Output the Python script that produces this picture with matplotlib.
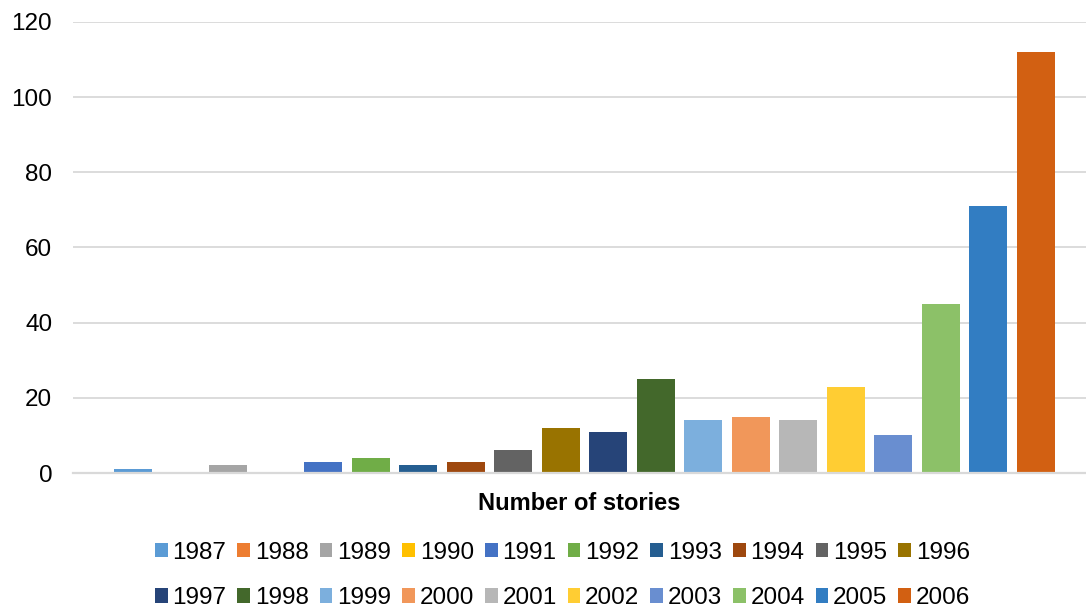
import matplotlib.pyplot as plt
from matplotlib.patches import Patch

plt.rcParams['font.family'] = ['Liberation Sans', 'DejaVu Sans']

# dados
anos = ['1987', '1988', '1989', '1990', '1991', '1992', '1993', '1994', '1995', '1996',
        '1997', '1998', '1999', '2000', '2001', '2002', '2003', '2004', '2005', '2006']
historias = [1, 0, 2, 0, 3, 4, 2, 3, 6, 12, 11, 25, 14, 15, 14, 23, 10, 45, 71, 112]
cores = ['#5B9BD5', '#ED7D31', '#A5A5A5', '#FFC000', '#4472C4', '#70AD47', '#255E91',
         '#9E480E', '#636363', '#997300', '#264478', '#43682B', '#7CAFDD', '#F1975A',
         '#B7B7B7', '#FFCD33', '#698ED0', '#8CC168', '#327DC2', '#D26012']
y_ticks = [0, 20, 40, 60, 80, 100, 120]

fig = plt.figure(figsize=(10.86, 6.09), dpi=100)
ax = fig.add_axes([0.0672, 0.2233, 0.9328, 0.7406])

for i, (ano, valor, cor) in enumerate(zip(anos, historias, cores)):
    ax.bar(i, valor, width=0.8, color=cor, label=ano, zorder=3)

ax.set_xlim(-1.263, 20.06)
ax.set_ylim(0, 120)
ax.set_yticks(y_ticks)
ax.set_xticks([])
ax.tick_params(axis='y', length=0, labelsize=17.5, pad=15)
ax.grid(axis='y', color='#D9D9D9', linewidth=1.3, zorder=0)
for lado in ['top', 'right', 'left']:
    ax.spines[lado].set_visible(False)
ax.spines['bottom'].set_color('#D9D9D9')
ax.spines['bottom'].set_linewidth(1.6)
ax.spines['bottom'].set_zorder(4)

ax.set_xlabel('Number of stories', fontsize=17, fontweight='bold', labelpad=14)

# legenda em ordem por linha (matplotlib preenche por coluna)
ordem = [j for i in range(10) for j in (i, i + 10)]
handles = [Patch(facecolor=cores[k]) for k in ordem]
labels = [anos[k] for k in ordem]
fig.legend(handles, labels, loc='center', bbox_to_anchor=(0.518, 0.055), ncol=10,
           frameon=False, fontsize=17.5, handlelength=0.52, handleheight=0.52,
           handletextpad=0.2, columnspacing=0.45, labelspacing=0.95)

plt.savefig('out.png', dpi=100)
